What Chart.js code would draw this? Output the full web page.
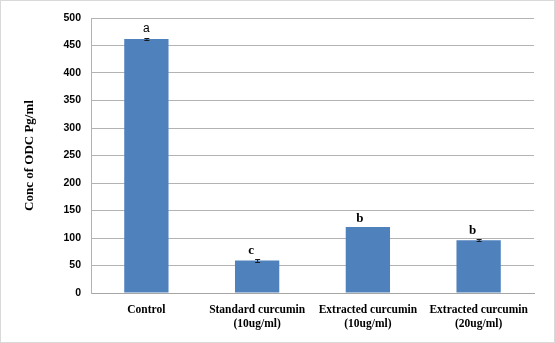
<!DOCTYPE html>
<html>
<head>
<meta charset="utf-8">
<script src="https://cdn.jsdelivr.net/npm/chart.js@4.4.1/dist/chart.umd.min.js"></script>
<style>
html,body{margin:0;padding:0;background:#fff;}
#wrap{width:555px;height:343px;position:relative;}
</style>
</head>
<body>
<div id="wrap"><canvas id="c" width="555" height="343"></canvas></div>
<script>
const categories = [["Control"], ["Standard curcumin", "(10ug/ml)"], ["Extracted curcumin", "(10ug/ml)"], ["Extracted curcumin", "(20ug/ml)"]];
const odcValues = [462, 59, 120, 96];
const odcErrors = [1.5, 2.5, 0, 2];
const groupLetters = ["a", "c", "b", "b"];
const yTicks = [0, 50, 100, 150, 200, 250, 300, 350, 400, 450, 500];
const yTitle = "Conc of ODC Pg/ml";

const frame = {
  id: 'frame',
  beforeDraw(chart) {
    const ctx = chart.ctx;
    ctx.save();
    ctx.fillStyle = '#fff';
    ctx.fillRect(0, 0, chart.width, chart.height);
    ctx.strokeStyle = '#d9d9d9';
    ctx.lineWidth = 1;
    ctx.strokeRect(0.5, 0.5, chart.width - 1, chart.height - 1);
    ctx.restore();
  }
};

const errAndLetters = {
  id: 'errAndLetters',
  afterDatasetsDraw(chart) {
    const ctx = chart.ctx;
    const meta = chart.getDatasetMeta(0);
    const y = chart.scales.y;
    ctx.save();
    meta.data.forEach((bar, i) => {
      const v = odcValues[i], e = odcErrors[i];
      const x = bar.x;
      const yTop = y.getPixelForValue(v + e);
      const yBot = y.getPixelForValue(v - e);
      if (e > 0) {
        ctx.strokeStyle = '#1a1a1a';
        ctx.lineWidth = 1;
        ctx.beginPath();
        ctx.moveTo(x + 0.5, yTop); ctx.lineTo(x + 0.5, yBot);
        ctx.moveTo(x - 2, Math.round(yTop) + 0.5); ctx.lineTo(x + 3, Math.round(yTop) + 0.5);
        ctx.moveTo(x - 2, Math.round(yBot) + 0.5); ctx.lineTo(x + 3, Math.round(yBot) + 0.5);
        ctx.stroke();
      }
      ctx.fillStyle = '#000';
      ctx.textAlign = 'center';
      ctx.textBaseline = 'alphabetic';
      if (i === 0) {
        ctx.font = '12px "Liberation Sans", Arial, sans-serif';
        ctx.fillText(groupLetters[i], x, yTop - 6);
      } else {
        ctx.font = 'bold 13px "Liberation Serif", "Times New Roman", serif';
        const dx = i === 2 ? -8 : -6;
        ctx.fillText(groupLetters[i], x + dx, yTop - 5);
      }
    });
    ctx.restore();
  }
};

new Chart(document.getElementById('c'), {
  type: 'bar',
  data: {
    labels: categories,
    datasets: [{
      data: odcValues,
      backgroundColor: '#4F81BD',
      borderWidth: 0,
      categoryPercentage: 1.0,
      barPercentage: 0.4
    }]
  },
  options: {
    responsive: false,
    animation: false,
    devicePixelRatio: 1,
    layout: { padding: { left: 18, right: 21, top: 18, bottom: 0 } },
    plugins: { legend: { display: false }, tooltip: { enabled: false } },
    scales: {
      x: {
        grid: { display: false, drawTicks: false },
        border: { display: true, color: '#a6a6a6' },
        ticks: {
          color: '#000',
          padding: 10,
          maxRotation: 0,
          autoSkip: false,
          font: { family: '"Liberation Serif", "Times New Roman", serif', size: 11.5, weight: 'bold', lineHeight: 1.2 }
        },
        afterFit(scale) { scale.height = 50; }
      },
      y: {
        min: 0, max: 500,
        afterBuildTicks(scale) { scale.ticks = yTicks.map(v => ({ value: v })); },
        grid: { color: '#b3b3b3', drawTicks: false },
        border: { display: true, color: '#b3b3b3' },
        ticks: {
          color: '#000',
          padding: 10,
          font: { family: '"Liberation Sans", Arial, sans-serif', size: 10.5, weight: 'bold' }
        },
        title: {
          display: true,
          text: yTitle,
          color: '#000',
          padding: { top: 4, bottom: 0 },
          font: { family: '"Liberation Serif", "Times New Roman", serif', size: 13, weight: 'bold' }
        },
        afterFit(scale) { scale.width = 73; }
      }
    }
  },
  plugins: [frame, errAndLetters]
});
</script>
</body>
</html>
